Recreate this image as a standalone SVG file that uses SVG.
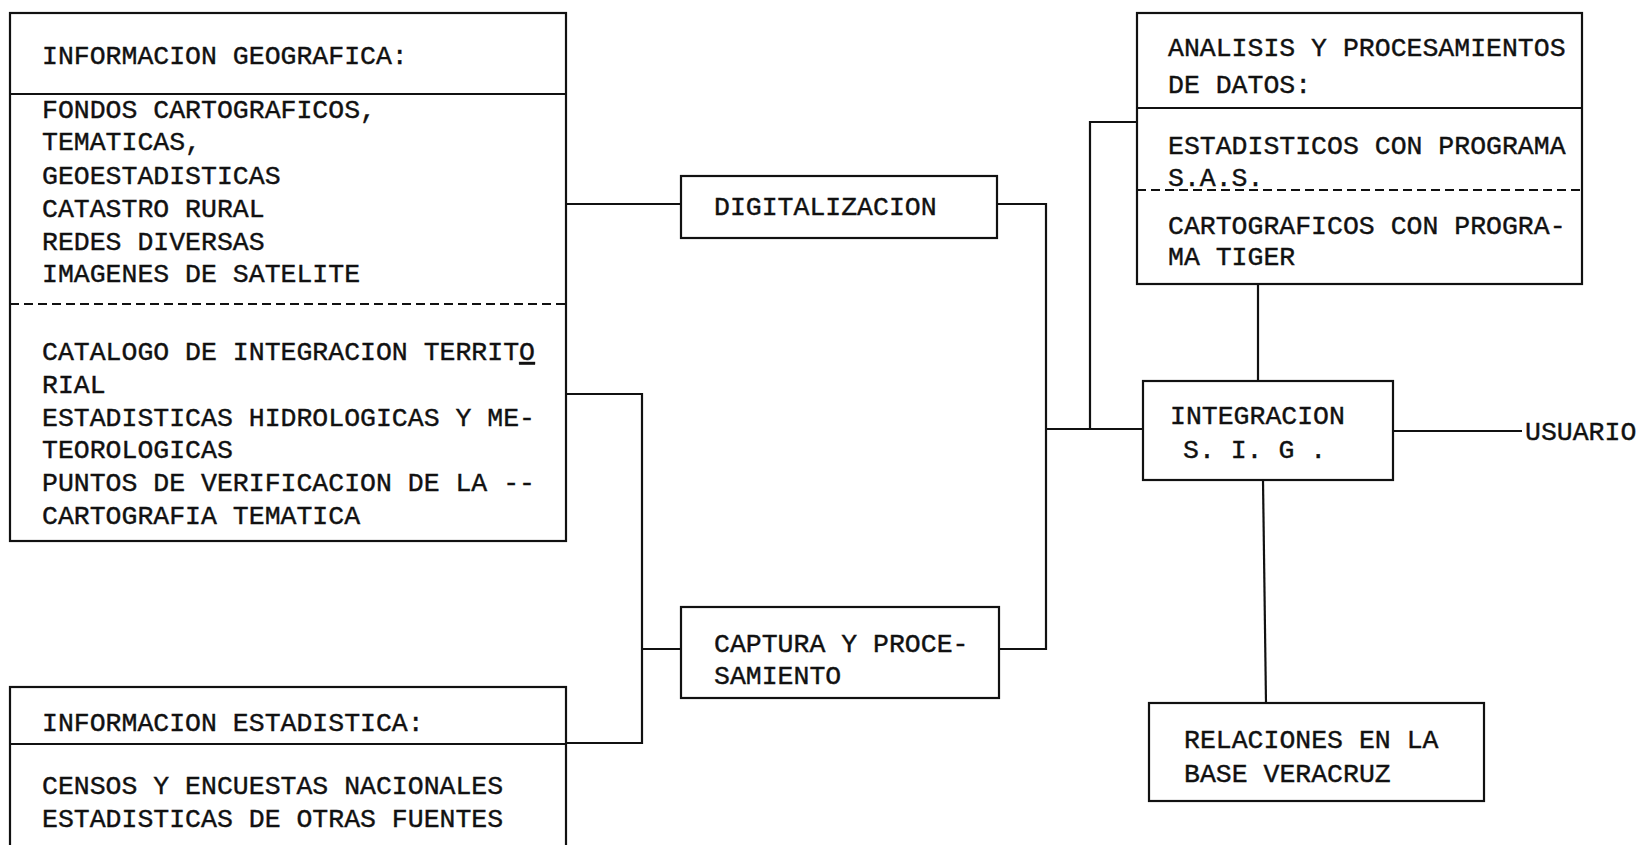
<svg xmlns="http://www.w3.org/2000/svg" width="1640" height="845" viewBox="0 0 1640 845">
<style>
.box{fill:none;stroke:#111;stroke-width:2.2}
.ln{fill:none;stroke:#111;stroke-width:2.2}
.dash{fill:none;stroke:#111;stroke-width:2;stroke-dasharray:9 5}
text{font-family:"Liberation Mono","DejaVu Sans Mono",monospace;font-size:26.5px;fill:#111;stroke:#111;stroke-width:0.4}
</style>
<rect width="1640" height="845" fill="#fff"/>
<g id="connectors">
<polyline class="ln" points="566,204 681,204"/>
<polyline class="ln" points="566,394 642,394 642,743 566,743"/>
<polyline class="ln" points="642,649 681,649"/>
<polyline class="ln" points="997,204 1046,204 1046,649 999,649"/>
<polyline class="ln" points="1046,429 1143,429"/>
<polyline class="ln" points="1090,429 1090,122 1137,122"/>
<polyline class="ln" points="1258,284 1258,381"/>
<polyline class="ln" points="1393,431 1522,431"/>
<polyline class="ln" points="1263,480 1266,703"/>
</g>
<g id="geo">
<rect class="box" x="10" y="13" width="556" height="528"/>
<line class="ln" x1="10" y1="94" x2="566" y2="94"/>
<line class="dash" x1="10" y1="304" x2="566" y2="304"/>
<text x="42" y="64">INFORMACION GEOGRAFICA:</text>
<text x="42" y="118">FONDOS CARTOGRAFICOS,</text>
<text x="42" y="150">TEMATICAS,</text>
<text x="42" y="184">GEOESTADISTICAS</text>
<text x="42" y="217">CATASTRO RURAL</text>
<text x="42" y="250">REDES DIVERSAS</text>
<text x="42" y="282">IMAGENES DE SATELITE</text>
<text x="42" y="360">CATALOGO DE INTEGRACION TERRIT<tspan text-decoration="underline">O</tspan></text>
<text x="42" y="393">RIAL</text>
<text x="42" y="426">ESTADISTICAS HIDROLOGICAS Y ME-</text>
<text x="42" y="458">TEOROLOGICAS</text>
<text x="42" y="491">PUNTOS DE VERIFICACION DE LA --</text>
<text x="42" y="524">CARTOGRAFIA TEMATICA</text>
</g>
<g id="estadistica">
<rect class="box" x="10" y="687" width="556" height="180"/>
<line class="ln" x1="10" y1="744" x2="566" y2="744"/>
<text x="42" y="731">INFORMACION ESTADISTICA:</text>
<text x="42" y="794">CENSOS Y ENCUESTAS NACIONALES</text>
<text x="42" y="827">ESTADISTICAS DE OTRAS FUENTES</text>
</g>
<g id="digitalizacion">
<rect class="box" x="681" y="176" width="316" height="62"/>
<text x="714" y="215">DIGITALIZACION</text>
</g>
<g id="captura">
<rect class="box" x="681" y="607" width="318" height="91"/>
<text x="714" y="652">CAPTURA Y PROCE-</text>
<text x="714" y="684">SAMIENTO</text>
</g>
<g id="analisis">
<rect class="box" x="1137" y="13" width="445" height="271"/>
<line class="ln" x1="1137" y1="108" x2="1582" y2="108"/>
<line class="dash" x1="1137" y1="190" x2="1582" y2="190"/>
<text x="1168" y="56">ANALISIS Y PROCESAMIENTOS</text>
<text x="1168" y="93">DE DATOS:</text>
<text x="1168" y="154">ESTADISTICOS CON PROGRAMA</text>
<text x="1168" y="186">S.A.S.</text>
<text x="1168" y="234">CARTOGRAFICOS CON PROGRA-</text>
<text x="1168" y="265">MA TIGER</text>
</g>
<g id="integracion">
<rect class="box" x="1143" y="381" width="250" height="99"/>
<text x="1170" y="424">INTEGRACION</text>
<text x="1183" y="458">S. I. G .</text>
</g>
<g id="usuario">
<text x="1525" y="440">USUARIO</text>
</g>
<g id="relaciones">
<rect class="box" x="1149" y="703" width="335" height="98"/>
<text x="1184" y="748">RELACIONES EN LA</text>
<text x="1184" y="782">BASE VERACRUZ</text>
</g>
</svg>
